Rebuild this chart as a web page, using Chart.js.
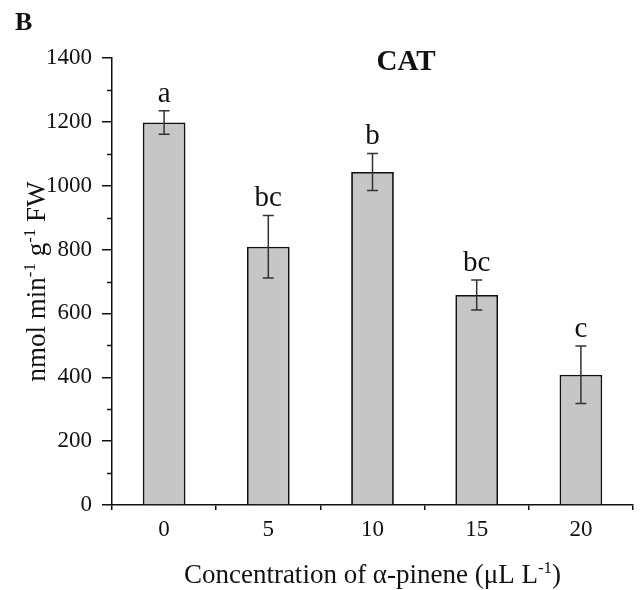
<!DOCTYPE html>
<html>
<head>
<meta charset="utf-8">
<script src="https://cdn.jsdelivr.net/npm/chart.js@4.4.1/dist/chart.umd.min.js"></script>
<style>
  html, body { margin: 0; padding: 0; background: #fff; }
  #wrap { width: 642px; height: 590px; position: relative; }
</style>
</head>
<body>
<div id="wrap"><canvas id="catChart" width="642" height="590"></canvas></div>
<script>
// data
const categories = ['0', '5', '10', '15', '20'];
const catValues = [1198, 809, 1043, 658, 408];
const catErrors = [37, 98, 58, 47, 90];
const sigLetters = ['a', 'bc', 'b', 'bc', 'c'];
const minorTicks = [100, 300, 500, 700, 900, 1100, 1300];

const serif = 'Liberation Serif';
const inkColor = '#111';
const barGrey = '#c6c6c6';

// error bars + significance letters
const errorBarPlugin = {
    id: 'errorBars',
    afterDatasetsDraw(chart) {
        const ctx = chart.ctx;
        const y = chart.scales.y;
        const meta = chart.getDatasetMeta(0);
        ctx.save();
        ctx.strokeStyle = '#333';
        ctx.lineWidth = 1.5;
        meta.data.forEach(function(bar, i) {
            const top = y.getPixelForValue(catValues[i] + catErrors[i]);
            const bottom = y.getPixelForValue(catValues[i] - catErrors[i]);
            ctx.beginPath();
            ctx.moveTo(bar.x, top);
            ctx.lineTo(bar.x, bottom);
            ctx.moveTo(bar.x - 5.5, top);
            ctx.lineTo(bar.x + 5.5, top);
            ctx.moveTo(bar.x - 5.5, bottom);
            ctx.lineTo(bar.x + 5.5, bottom);
            ctx.stroke();

            ctx.fillStyle = inkColor;
            ctx.font = '29px "' + serif + '"';
            ctx.textAlign = 'center';
            ctx.textBaseline = 'alphabetic';
            ctx.fillText(sigLetters[i], bar.x, top - 9);
        });
        ctx.restore();
    }
};

// minor ticks, panel letter, title and axis titles (with superscripts)
const decorPlugin = {
    id: 'decor',
    afterDraw(chart) {
        const ctx = chart.ctx;
        const y = chart.scales.y;
        const area = chart.chartArea;
        ctx.save();

        // minor y ticks
        ctx.strokeStyle = inkColor;
        ctx.lineWidth = 1.5;
        ctx.beginPath();
        minorTicks.forEach(function(v) {
            const py = Math.round(y.getPixelForValue(v)) + 0.5;
            ctx.moveTo(area.left, py);
            ctx.lineTo(area.left - 5, py);
        });
        ctx.stroke();

        ctx.fillStyle = inkColor;
        ctx.textBaseline = 'alphabetic';

        // panel letter
        ctx.font = 'bold 26px "' + serif + '"';
        ctx.textAlign = 'left';
        ctx.fillText('B', 15, 30);

        // chart title
        ctx.font = 'bold 29px "' + serif + '"';
        ctx.textAlign = 'center';
        ctx.fillText('CAT', 406, 70);

        // helper: draw runs of [text, isSup] centred at (cx, baseline)
        function drawRuns(runs, cx, base, size) {
            const supSize = Math.round(size * 0.62);
            let total = 0;
            runs.forEach(function(r) {
                ctx.font = (r[1] ? supSize : size) + 'px "' + serif + '"';
                total += ctx.measureText(r[0]).width;
            });
            let x = cx - total / 2;
            ctx.textAlign = 'left';
            runs.forEach(function(r) {
                ctx.font = (r[1] ? supSize : size) + 'px "' + serif + '"';
                ctx.fillText(r[0], x, r[1] ? base - size * 0.38 : base);
                x += ctx.measureText(r[0]).width;
            });
        }

        // x axis title
        const xMid = (area.left + area.right) / 2;
        drawRuns([['Concentration of \u03b1-pinene (\u03bcL L', false], ['-1', true], [')', false]], xMid, 583, 27);

        // y axis title
        ctx.save();
        ctx.translate(45, (area.top + area.bottom) / 2);
        ctx.rotate(-Math.PI / 2);
        drawRuns([['nmol min', false], ['-1', true], [' g', false], ['-1', true], [' FW', false]], 0, 0, 27);
        ctx.restore();

        ctx.restore();
    }
};

Chart.defaults.font.family = serif;
Chart.defaults.color = inkColor;

new Chart(document.getElementById('catChart').getContext('2d'), {
    type: 'bar',
    data: {
        labels: categories,
        datasets: [{
            label: 'CAT',
            data: catValues,
            backgroundColor: barGrey,
            borderColor: inkColor,
            borderWidth: 1.8,
            categoryPercentage: 1,
            barPercentage: 0.41
        }]
    },
    options: {
        responsive: false,
        animation: false,
        layout: { padding: { top: 58, right: 9, left: 0, bottom: 0 } },
        scales: {
            x: {
                afterFit: function(scale) { scale.height = 85; },
                grid: {
                    offset: true,
                    drawOnChartArea: false,
                    tickLength: 5,
                    color: inkColor,
                    lineWidth: 1.5
                },
                border: { color: inkColor, width: 1.5 },
                ticks: { font: { size: 23 }, color: inkColor, padding: 6 }
            },
            y: {
                min: 0,
                max: 1400,
                afterFit: function(scale) { scale.width = 112; },
                grid: {
                    drawOnChartArea: false,
                    tickLength: 10,
                    color: inkColor,
                    lineWidth: 1.5
                },
                border: { color: inkColor, width: 1.5 },
                ticks: {
                    stepSize: 200,
                    font: { size: 23 },
                    color: inkColor,
                    padding: 10,
                    callback: function(value) { return String(value); }
                }
            }
        },
        plugins: {
            legend: { display: false },
            tooltip: { enabled: false }
        }
    },
    plugins: [errorBarPlugin, decorPlugin]
});
</script>
</body>
</html>
